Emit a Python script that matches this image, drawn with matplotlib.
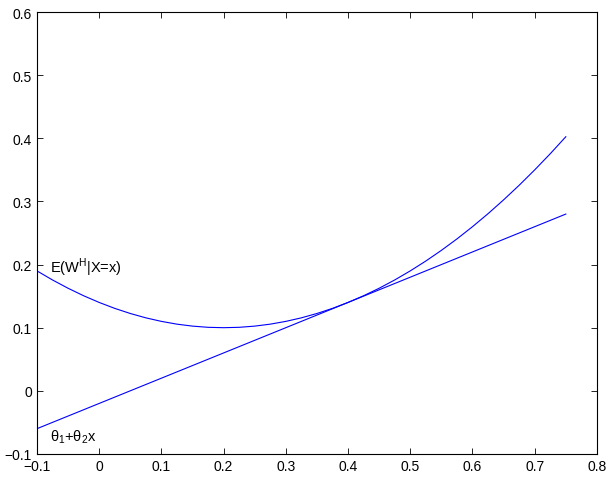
import matplotlib
matplotlib.use("Agg")
import matplotlib.pyplot as plt

plt.rcParams['font.family'] = ['Liberation Sans', 'DejaVu Sans']

# values
x_curve = [-0.100, -0.075, -0.050, -0.025, 0.000, 0.025, 0.050, 0.075, 0.100,
           0.125, 0.150, 0.175, 0.200, 0.225, 0.250, 0.275, 0.300, 0.325,
           0.350, 0.375, 0.400, 0.425, 0.450, 0.475, 0.500, 0.525, 0.550,
           0.575, 0.600, 0.625, 0.650, 0.675, 0.700, 0.725, 0.750]
y_curve = [0.1900, 0.1756, 0.1625, 0.1506, 0.1400, 0.1306, 0.1225, 0.1156, 0.1100,
           0.1056, 0.1025, 0.1006, 0.1000, 0.1006, 0.1025, 0.1056, 0.1100, 0.1156,
           0.1225, 0.1306, 0.1400, 0.1506, 0.1625, 0.1756, 0.1900, 0.2056, 0.2225,
           0.2406, 0.2600, 0.2806, 0.3025, 0.3256, 0.3500, 0.3756, 0.4025]
x_line = [-0.10, 0.75]
y_line = [-0.06, 0.28]

xticks = [-0.1, 0, 0.1, 0.2, 0.3, 0.4, 0.5, 0.6, 0.7, 0.8]
yticks = [-0.1, 0, 0.1, 0.2, 0.3, 0.4, 0.5, 0.6]

fig = plt.figure(figsize=(6.16, 4.85), dpi=100)
ax = fig.add_axes([0.060, 0.062, 0.909, 0.911])

ax.plot(x_curve, y_curve, color='#0000ff', lw=0.8)
ax.plot(x_line, y_line, color='#0000ff', lw=0.8)

ax.text(-0.079, 0.196, r'E(W$^{\mathregular{H}}$|X=x)', fontsize=10.5, va='center')
ax.text(-0.079, -0.072, r'$\mathregular{\theta_1}$+$\mathregular{\theta_2}$x', fontsize=10.5, va='center')

ax.set_xlim(-0.1, 0.8)
ax.set_ylim(-0.1, 0.6)
ax.set_xticks(xticks)
ax.set_yticks(yticks)
ax.set_xticklabels(['\u22120.1', '0', '0.1', '0.2', '0.3', '0.4', '0.5', '0.6', '0.7', '0.8'])
ax.set_yticklabels(['\u22120.1', '0', '0.1', '0.2', '0.3', '0.4', '0.5', '0.6'])
ax.tick_params(direction='in', top=True, right=True, labelsize=10, length=4, width=0.6)
for s in ax.spines.values():
    s.set_linewidth(0.8)

fig.savefig('out.png', dpi=100)
